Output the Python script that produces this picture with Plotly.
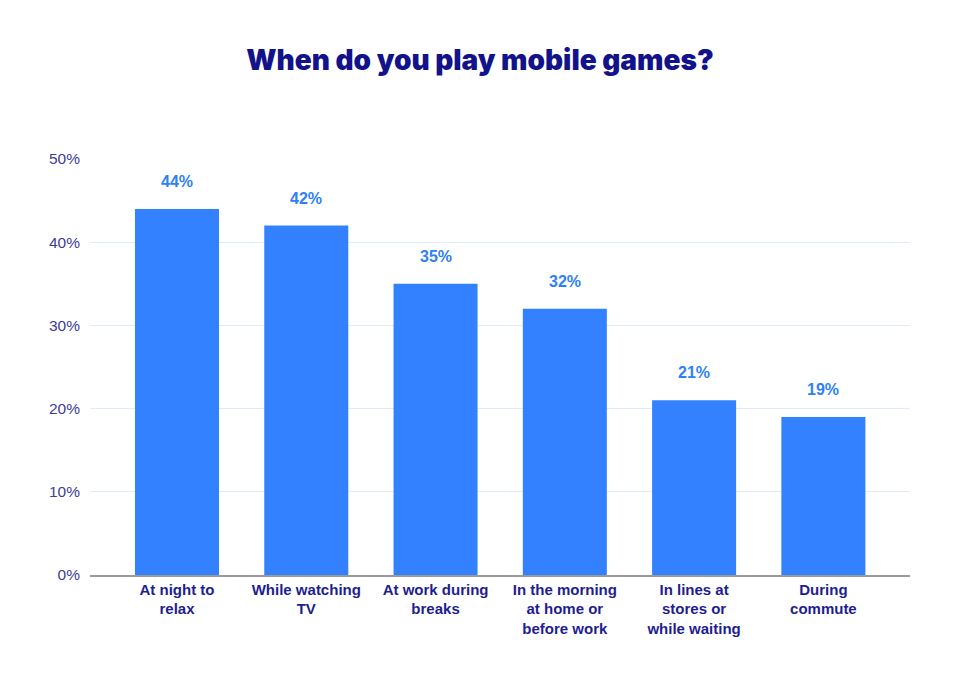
import plotly.graph_objects as go

categories = ["At night to<br>relax", "While watching<br>TV", "At work during<br>breaks",
              "In the morning<br>at home or<br>before work", "In lines at<br>stores or<br>while waiting",
              "During<br>commute"]
values = [44, 42, 35, 32, 21, 19]
tick_vals = [0, 10, 20, 30, 40, 50]
tick_text = ["0%", "10%", "20%", "30%", "40%", "50%"]

fig = go.Figure()
fig.add_trace(go.Bar(x=list(range(len(categories))), y=values, width=0.65,
                     marker=dict(color="#3381ff", line=dict(width=0)),
                     hoverinfo="skip"))
for i, v in enumerate(values):
    fig.add_annotation(x=i, y=v, text=f"{v}%", showarrow=False, yshift=17,
                       yanchor="bottom",
                       font=dict(family="Arial, Liberation Sans", size=16, color="#2f80f5", weight="bold"))

fig.update_layout(
    width=960, height=680,
    margin=dict(l=90, r=50, t=159, b=105),
    plot_bgcolor="white", paper_bgcolor="white",
    showlegend=False,
    title=dict(text="When do you play mobile games?", x=0.5, xanchor="center", y=0.912, yanchor="middle",
               font=dict(family="Inter", size=28, color="#12128a", weight=900)),
    bargap=0.35,
)
fig.update_xaxes(range=[-0.673, 5.67], tickmode="array", tickvals=list(range(len(categories))),
                 ticktext=categories, showgrid=False, zeroline=False,
                 showline=True, linecolor="#9a9a9a", linewidth=1.5, ticks="",
                 tickfont=dict(family="Arial, Liberation Sans", size=15, color="#1e1e90", weight="bold"))
fig.update_yaxes(range=[0, 50], tickmode="array", tickvals=tick_vals, ticktext=tick_text,
                 showgrid=True, gridcolor="#e0ebfd", gridwidth=1, zeroline=False, ticks="",
                 ticklabelstandoff=9,
                 tickfont=dict(family="Arial, Liberation Sans", size=15.5, color="#3c3c9c"))

fig.write_html("out.html")
